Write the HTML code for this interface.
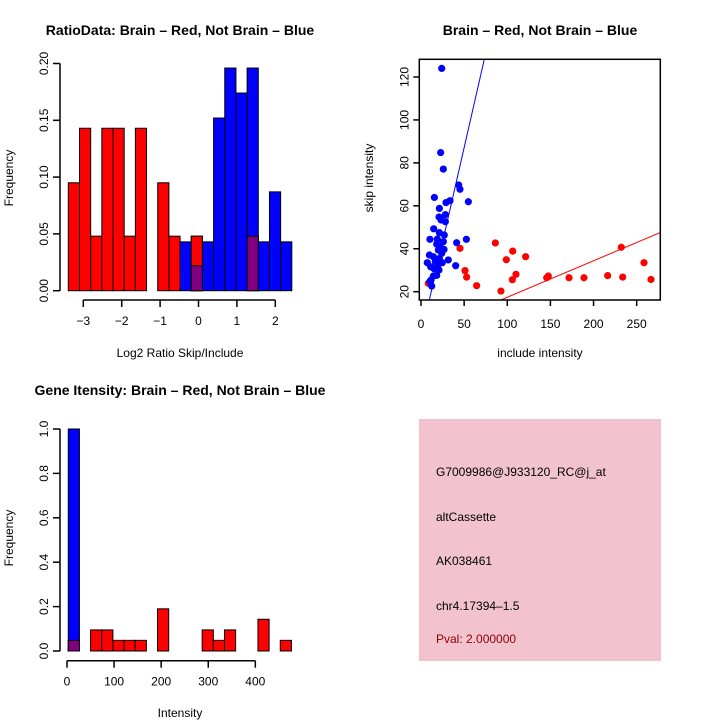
<!DOCTYPE html>
<html><head><meta charset="utf-8"><style>
html,body{margin:0;padding:0;background:#fff;}
svg{display:block;font-family:"Liberation Sans",sans-serif;}
</style></head><body>
<svg id="c" width="720" height="720" viewBox="0 0 720 720">
<rect width="720" height="720" fill="#fff"/>
<text x="180" y="35" text-anchor="middle" font-size="14" font-weight="bold">RatioData: Brain – Red, Not Brain – Blue</text>
<text x="540" y="35" text-anchor="middle" font-size="14" font-weight="bold">Brain – Red, Not Brain – Blue</text>
<text x="180" y="395" text-anchor="middle" font-size="14" font-weight="bold">Gene Itensity: Brain – Red, Not Brain – Blue</text>
<text x="180" y="357" text-anchor="middle" font-size="12">Log2 Ratio Skip/Include</text>
<text transform="translate(13,178) rotate(-90)" text-anchor="middle" font-size="12">Frequency</text>
<text x="540" y="357" text-anchor="middle" font-size="12">include intensity</text>
<text transform="translate(373,178) rotate(-90)" text-anchor="middle" font-size="12">skip intensity</text>
<text x="180" y="717" text-anchor="middle" font-size="12">Intensity</text>
<text transform="translate(13,538) rotate(-90)" text-anchor="middle" font-size="12">Frequency</text>
<g>
<rect x="419" y="419" width="242" height="242" fill="#f2c2ce"/>
<text x="436" y="476" font-size="12">G7009986@J933120_RC@j_at</text>
<text x="436" y="521" font-size="12">altCassette</text>
<text x="436" y="565" font-size="12">AK038461</text>
<text x="436" y="610" font-size="12">chr4.17394–1.5</text>
<text x="436" y="643" font-size="12" fill="#8b0000">Pval: 2.000000</text>
</g>
<g id="g1"></g><g id="g2"></g><g id="g3"></g>
</svg>
<script>
// Ratio histogram data
const ratioBinStart = -3.39;
const ratioBinWidth = 0.291;
const ratioRed = [0.095,0.143,0.048,0.143,0.143,0.048,0.143,0,0.095,0.048,0,0.048,0,0,0,0,0.048,0,0,0];
const ratioBlue = [0,0,0,0,0,0,0,0,0,0,0.043,0.022,0.043,0.152,0.196,0.174,0.196,0.043,0.087,0.043];
const ratioXTicks = [-3,-2,-1,0,1,2];
const ratioYTicks = [0,0.05,0.10,0.15,0.20];
const ratioYLabels = ["0.00","0.05","0.10","0.15","0.20"];
// Scatter data
const redX = [8.5,45.2,51.0,52.9,64.5,86.2,92.7,98.9,105.9,106.3,110.1,121.3,145.7,147.6,171.6,188.9,216.4,232.2,233.8,258.5,266.6];
const redY = [23.9,40.2,29.8,26.8,22.8,42.7,20.3,34.9,25.6,38.9,28.1,36.3,26.5,27.3,26.5,26.5,27.5,40.7,26.8,33.5,25.7];
const blueX = [24.0,22.8,25.9,43.7,45.2,15.5,54.9,33.6,29.0,21.3,28.2,20.9,23.2,28.2,14.7,21.3,27.0,10.4,18.9,41.3,52.6,25.9,18.2,22.0,26.7,20.1,9.7,24.0,14.3,31.7,21.3,7.3,16.6,11.2,20.1,24.7,15.1,20.9,40.2,18.2,14.3,11.6,10.4,12.4];
const blueY = [124.0,84.8,77.1,69.7,67.7,63.9,61.9,62.4,61.5,58.8,55.9,54.8,53.4,52.6,49.3,47.5,46.4,44.4,44.5,42.8,44.4,43.3,42.2,41.0,39.7,39.4,37.1,37.9,36.3,34.8,35.5,33.5,34.0,31.6,32.7,33.5,30.7,30.1,32.1,27.6,27.3,25.4,24.8,22.6];
const blueFit = [-0.9, 1.76];
const redFit = [0.4, 0.17];
const scXTicks = [0,50,100,150,200,250];
const scYTicks = [20,40,60,80,100,120];
// Intensity histogram data
const intBinStart = 2.7;
const intBinWidth = 23.7;
const intRed = [0.048,0,0.095,0.095,0.048,0.048,0.048,0,0.19,0,0,0,0.095,0.048,0.095,0,0,0.143,0,0.048];
const intBlue = [1.0,0,0,0,0,0,0,0,0,0,0,0,0,0,0,0,0,0,0,0];
const intXTicks = [0,100,200,300,400];
const intYTicks = [0,0.2,0.4,0.6,0.8,1.0];
const intYLabels = ["0.0","0.2","0.4","0.6","0.8","1.0"];

const NS="http://www.w3.org/2000/svg";
function mk(parent,tag,attrs){const e=document.createElementNS(NS,tag);for(const k in attrs)e.setAttribute(k,attrs[k]);parent.appendChild(e);return e;}

function hist(g,binStart,binW,red,blue,sx,sy,xTicks,yTicks,yLabels,xAxisY,yAxisX,prefix){
  for(let i=0;i<red.length;i++){
    const x0=sx(binStart+i*binW), x1=sx(binStart+(i+1)*binW);
    const r=red[i], b=blue[i];
    if(r>0){const e=mk(g,'rect',{x:x0,y:sy(r),width:x1-x0,height:sy(0)-sy(r),fill:'#ff0000',stroke:'#000','stroke-width':1});
      
      }
    if(b>0){const e=mk(g,'rect',{x:x0,y:sy(b),width:x1-x0,height:sy(0)-sy(b),fill:'#0000ff',stroke:'#000','stroke-width':1});
      
      }
    const m=Math.min(r,b);
    if(m>0){
      if(r>b){const e=mk(g,'rect',{x:x0,y:sy(r),width:x1-x0,height:sy(0)-sy(r),fill:'#ff0000',stroke:'#000','stroke-width':1});
        
        }
      const e=mk(g,'rect',{x:x0,y:sy(m),width:x1-x0,height:sy(0)-sy(m),fill:'#800080',stroke:'#000','stroke-width':1});
      
      }
  }
  const xa=mk(g,'line',{x1:sx(xTicks[0]),x2:sx(xTicks[xTicks.length-1]),y1:xAxisY,y2:xAxisY,stroke:'#000','stroke-width':1.5});
  
  
  xTicks.forEach(t=>{mk(g,'line',{x1:sx(t),x2:sx(t),y1:xAxisY,y2:xAxisY+7,stroke:'#000','stroke-width':1.5});
    const tx=mk(g,'text',{x:sx(t),y:xAxisY+25,'text-anchor':'middle','font-size':12});
    tx.textContent=(t<0?'\u2212'+(-t):String(t));
    
    });
  const ya=mk(g,'line',{x1:yAxisX,x2:yAxisX,y1:sy(yTicks[0]),y2:sy(yTicks[yTicks.length-1]),stroke:'#000','stroke-width':1.5});
  
  
  yTicks.forEach((t,i)=>{mk(g,'line',{x1:yAxisX-7,x2:yAxisX,y1:sy(t),y2:sy(t),stroke:'#000','stroke-width':1.5});
    const tx=mk(g,'text',{transform:`translate(${yAxisX-12},${sy(t)}) rotate(-90)`,'text-anchor':'middle','font-size':12});
    tx.textContent=yLabels[i];
    
    });
}
// Panel 1
{const sx=v=>83.3+(v+3)*38.4, sy=v=>290.7-v*1136;
 hist(document.getElementById('g1'),ratioBinStart,ratioBinWidth,ratioRed,ratioBlue,sx,sy,ratioXTicks,ratioYTicks,ratioYLabels,300,60,'ratio');}
// Panel 3
{const sx=v=>67+v*0.4708, sy=v=>651-v*222;
 hist(document.getElementById('g3'),intBinStart,intBinWidth,intRed,intBlue,sx,sy,intXTicks,intYTicks,intYLabels,660.7,60,'intensity');}
// Panel 2 scatter
{const g=document.getElementById('g2');
 const sx=v=>421+v*0.8627, sy=v=>291.7-(v-20)*2.147;
 const L=419.3,R=660.3,T=59.3,B=300;
 const cp=mk(g,'clipPath',{id:'clipSc'});mk(cp,'rect',{x:L,y:T,width:R-L,height:B-T});
 const pg=mk(g,'g',{'clip-path':'url(#clipSc)'});
 redX.forEach((x,i)=>{const c=mk(pg,'circle',{cx:sx(x),cy:sy(redY[i]),r:3.6,fill:'#ff0000'});
   
   });
 blueX.forEach((x,i)=>{const c=mk(pg,'circle',{cx:sx(x),cy:sy(blueY[i]),r:3.6,fill:'#0000ff'});
   
   });
 const xa=-20,xb=300;
 const bl=mk(pg,'line',{x1:sx(xa),y1:sy(blueFit[0]+blueFit[1]*xa),x2:sx(xb),y2:sy(blueFit[0]+blueFit[1]*xb),stroke:'#0000ff','stroke-width':1});
 
 
 const rl=mk(pg,'line',{x1:sx(xa),y1:sy(redFit[0]+redFit[1]*xa),x2:sx(xb),y2:sy(redFit[0]+redFit[1]*xb),stroke:'#ff0000','stroke-width':1});
 
 
 const box=mk(g,'rect',{x:L,y:T,width:R-L,height:B-T,fill:'none',stroke:'#000','stroke-width':1.5});
 
 
 scXTicks.forEach(t=>{mk(g,'line',{x1:sx(t),x2:sx(t),y1:B,y2:B+6,stroke:'#000','stroke-width':1.5});
   const tx=mk(g,'text',{x:sx(t),y:B+28,'text-anchor':'middle','font-size':12});tx.textContent=String(t);
   
   });
 scYTicks.forEach(t=>{mk(g,'line',{x1:L-6,x2:L,y1:sy(t),y2:sy(t),stroke:'#000','stroke-width':1.5});
   const tx=mk(g,'text',{transform:`translate(${L-11},${sy(t)}) rotate(-90)`,'text-anchor':'middle','font-size':12});tx.textContent=String(t);
   
   });
}
</script>
</body></html>
